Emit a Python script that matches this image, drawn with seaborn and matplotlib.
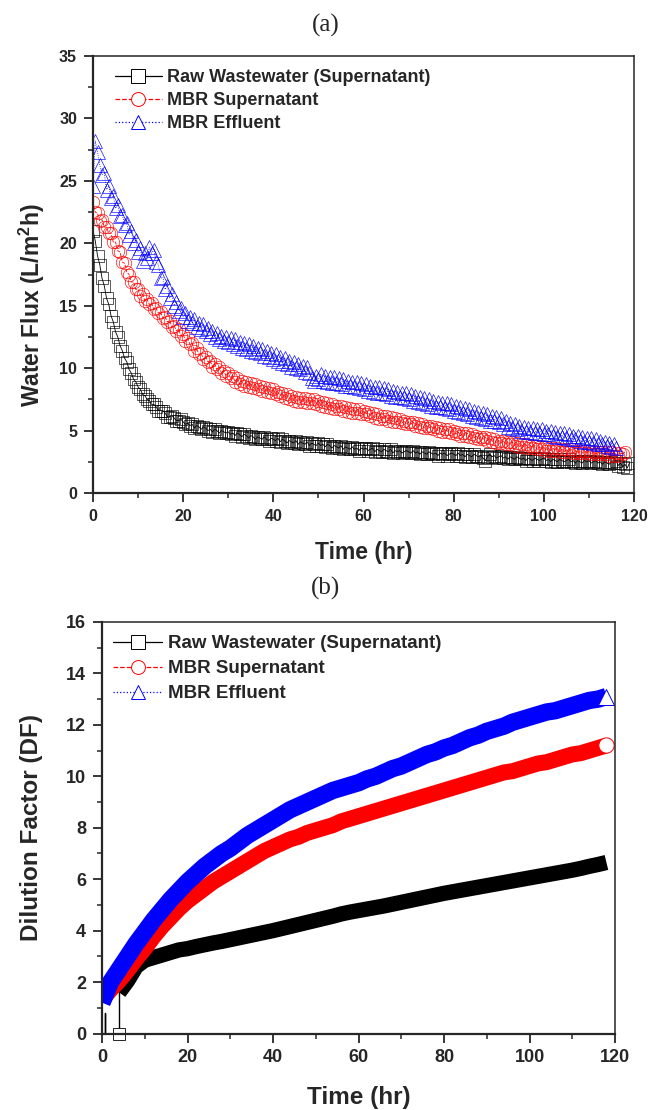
"""
Water flux / dilution factor curves, panels (a) and (b)
"""
import matplotlib
matplotlib.use('Agg')
import matplotlib.pyplot as plt
from matplotlib.lines import Line2D
from matplotlib.ticker import MultipleLocator
import seaborn as sns

# --- data (a): water flux, one reading every half hour ---
raw_flux = [21.0, 20.2, 19.0, 18.3, 17.2, 16.6, 15.6, 15.1, 14.2, 13.7,
            12.9, 12.5, 11.8, 11.4, 10.8, 10.5, 9.9, 9.6, 9.1, 8.9,
            8.5, 8.3, 7.9, 7.8, 7.5, 7.4, 7.1, 7.1, 6.9, 6.6,
            6.6, 6.6, 6.4, 6.1, 6.1, 6.2, 6.0, 5.8, 5.8, 5.9,
            5.7, 5.5, 5.6, 5.4, 5.5, 5.2, 5.4, 5.3, 5.1, 5.3,
            5.2, 5.0, 5.1, 4.9, 5.1, 5.0, 4.8, 5.0, 4.9, 4.8,
            4.9, 4.7, 4.8, 4.6, 4.8, 4.7, 4.5, 4.7, 4.6, 4.4,
            4.6, 4.5, 4.3, 4.5, 4.4, 4.3, 4.5, 4.3, 4.2, 4.4,
            4.3, 4.2, 4.4, 4.1, 4.3, 4.2, 4.0, 4.2, 4.1, 4.0,
            4.2, 3.9, 4.1, 4.0, 3.9, 4.1, 3.8, 4.0, 3.9, 3.8,
            4.0, 3.8, 3.9, 3.7, 3.9, 3.8, 3.6, 3.8, 3.7, 3.6,
            3.8, 3.5, 3.7, 3.6, 3.5, 3.7, 3.5, 3.6, 3.4, 3.6,
            3.5, 3.6, 3.4, 3.5, 3.6, 3.3, 3.5, 3.4, 3.3, 3.5,
            3.4, 3.3, 3.5, 3.2, 3.4, 3.3, 3.4, 3.2, 3.3, 3.4,
            3.3, 3.2, 3.4, 3.2, 3.3, 3.1, 3.3, 3.2, 3.1, 3.3,
            3.2, 3.1, 3.2, 3.0, 3.2, 3.1, 3.2, 3.0, 3.1, 3.2,
            3.1, 3.0, 3.2, 3.0, 3.1, 2.9, 3.1, 3.0, 2.9, 3.1,
            3.0, 2.9, 3.0, 2.8, 2.6, 2.9, 3.1, 2.9, 3.0, 2.8,
            2.9, 3.0, 2.8, 2.9, 2.7, 2.9, 2.8, 2.7, 2.9, 2.8,
            2.7, 2.8, 2.6, 2.8, 2.7, 2.6, 2.8, 2.7, 2.6, 2.7,
            2.8, 2.6, 2.7, 2.5, 2.7, 2.6, 2.5, 2.7, 2.6, 2.5,
            2.6, 2.7, 2.5, 2.6, 2.4, 2.6, 2.5, 2.4, 2.6, 2.5,
            2.6, 2.4, 2.5, 2.6, 2.4, 2.5, 2.3, 2.5, 2.4, 2.3,
            2.5, 2.4, 2.6, 2.2, 2.4, 2.1, 2.3, 2.0, 2.4]
mbr_sup_flux = [23.3, 22.5, 22.4, 21.8, 21.9, 21.3, 21.3, 20.8, 20.8, 20.1,
                20.1, 19.4, 19.3, 18.5, 18.4, 17.7, 17.5, 16.9, 16.9, 16.3,
                16.3, 15.8, 15.9, 15.4, 15.5, 15.1, 15.2, 14.7, 14.8, 14.4,
                14.5, 14.0, 14.1, 13.7, 13.8, 13.3, 13.4, 13.0, 13.1, 12.6,
                12.7, 12.2, 12.4, 11.9, 12.0, 11.4, 11.6, 11.1, 11.2, 10.7,
                10.9, 10.5, 10.6, 10.1, 10.3, 9.9, 10.1, 9.6, 9.8, 9.4,
                9.6, 9.2, 9.4, 8.9, 9.2, 8.7, 9.0, 8.6, 8.9, 8.5,
                8.8, 8.4, 8.7, 8.3, 8.6, 8.2, 8.5, 8.1, 8.4, 8.0,
                8.3, 7.9, 8.1, 7.8, 8.0, 7.6, 7.9, 7.5, 7.8, 7.4,
                7.7, 7.3, 7.6, 7.3, 7.6, 7.2, 7.5, 7.2, 7.5, 7.1,
                7.4, 7.0, 7.3, 6.9, 7.2, 6.8, 7.1, 6.7, 7.0, 6.7,
                7.0, 6.6, 6.9, 6.5, 6.8, 6.4, 6.7, 6.4, 6.7, 6.3,
                6.6, 6.3, 6.5, 6.2, 6.4, 6.0, 6.3, 5.9, 6.2, 5.9,
                6.2, 5.8, 6.1, 5.7, 6.0, 5.7, 5.9, 5.6, 5.8, 5.5,
                5.7, 5.5, 5.7, 5.4, 5.6, 5.3, 5.5, 5.2, 5.4, 5.2,
                5.4, 5.1, 5.3, 5.0, 5.2, 4.9, 5.1, 4.9, 5.1, 4.8,
                5.0, 4.7, 4.9, 4.6, 4.8, 4.6, 4.8, 4.5, 4.7, 4.4,
                4.6, 4.3, 4.5, 4.3, 4.5, 4.2, 4.4, 4.1, 4.3, 4.0,
                4.2, 4.0, 4.2, 3.9, 4.1, 3.9, 4.1, 3.8, 4.0, 3.7,
                3.9, 3.7, 3.9, 3.6, 3.8, 3.6, 3.8, 3.5, 3.7, 3.5,
                3.7, 3.4, 3.6, 3.4, 3.6, 3.4, 3.6, 3.3, 3.5, 3.3,
                3.5, 3.3, 3.5, 3.2, 3.4, 3.2, 3.4, 3.2, 3.4, 3.2,
                3.4, 3.1, 3.3, 3.1, 3.3, 3.1, 3.3, 3.1, 3.3, 3.0,
                3.3, 3.0, 3.2, 3.0, 3.2, 3.1, 3.3]
mbr_eff_flux = [24.6, 28.2, 27.3, 26.3, 25.5, 25.6, 24.3, 24.6, 23.6, 23.8,
                22.8, 23.1, 22.2, 22.3, 21.5, 21.6, 20.7, 21.0, 20.0, 20.3,
                19.3, 19.6, 18.6, 19.2, 18.8, 19.7, 19.2, 19.5, 18.5, 18.3,
                17.2, 17.3, 16.3, 16.6, 15.6, 15.9, 15.0, 15.3, 14.6, 14.8,
                14.1, 14.4, 13.8, 14.1, 13.6, 13.9, 13.3, 13.6, 13.1, 13.5,
                13.0, 13.2, 12.7, 13.0, 12.5, 12.8, 12.3, 12.6, 12.2, 12.5,
                12.1, 12.4, 11.9, 12.3, 11.8, 12.1, 11.6, 12.0, 11.5, 11.9,
                11.4, 11.8, 11.3, 11.6, 11.2, 11.5, 11.0, 11.4, 10.9, 11.2,
                10.7, 11.1, 10.6, 10.9, 10.4, 10.8, 10.3, 10.6, 10.1, 10.5,
                10.0, 10.3, 9.9, 10.2, 9.7, 10.1, 9.6, 9.2, 9.0, 9.4,
                9.1, 9.5, 9.0, 9.4, 8.9, 9.3, 8.8, 9.3, 8.8, 9.2,
                8.7, 9.1, 8.6, 9.0, 8.6, 8.9, 8.5, 8.9, 8.4, 8.8,
                8.3, 8.7, 8.2, 8.6, 8.1, 8.5, 8.0, 8.5, 8.0, 8.4,
                7.9, 8.3, 7.8, 8.2, 7.7, 8.1, 7.7, 8.0, 7.6, 8.0,
                7.5, 7.9, 7.4, 7.8, 7.3, 7.7, 7.2, 7.6, 7.1, 7.5,
                7.0, 7.4, 6.9, 7.3, 6.9, 7.2, 6.8, 7.2, 6.7, 7.1,
                6.6, 7.0, 6.5, 6.9, 6.4, 6.8, 6.3, 6.7, 6.2, 6.6,
                6.1, 6.5, 6.0, 6.4, 5.9, 6.3, 5.8, 6.2, 5.8, 6.1,
                5.7, 6.0, 5.5, 5.8, 5.3, 5.6, 5.2, 5.5, 5.1, 5.4,
                5.0, 5.3, 4.9, 5.2, 4.9, 5.2, 4.8, 5.1, 4.8, 5.1,
                4.7, 5.0, 4.7, 5.0, 4.6, 4.9, 4.5, 4.8, 4.5, 4.8,
                4.4, 4.7, 4.3, 4.6, 4.3, 4.6, 4.2, 4.5, 4.1, 4.4,
                4.1, 4.4, 4.0, 4.3, 3.9, 4.2, 3.9, 4.1, 3.8, 4.0,
                3.7, 3.9, 3.6]
raw_time = [i * 0.5 for i in range(len(raw_flux))]
mbr_sup_time = [i * 0.5 for i in range(len(mbr_sup_flux))]
mbr_eff_time = [i * 0.5 for i in range(len(mbr_eff_flux))]

# --- data (b): dilution factor, every 2 hours ---
df_time = list(range(0, 120, 2))
raw_df_time = list(range(4, 120, 2))
raw_df_early_time = [0.0, 0.6, 0.6, 0.6, 3.9, 3.9]
raw_df_early = [0.0, 0.0, 0.8, 0.0, 0.0, 1.6]
raw_df = [1.6, 2.05, 2.6, 2.85, 2.95, 3.05, 3.15, 3.25,
          3.3, 3.38, 3.45, 3.52, 3.58, 3.65, 3.72, 3.79, 3.86, 3.93,
          4.0, 4.08, 4.16, 4.24, 4.32, 4.4, 4.48, 4.56, 4.65, 4.72,
          4.78, 4.84, 4.9, 4.96, 5.03, 5.1, 5.17, 5.24, 5.31, 5.38,
          5.45, 5.51, 5.57, 5.63, 5.69, 5.75, 5.81, 5.87, 5.93, 5.99,
          6.05, 6.11, 6.17, 6.23, 6.29, 6.35, 6.42, 6.5, 6.57, 6.65]
mbr_sup_df = [1.3, 1.7, 2.05, 2.45, 2.9, 3.3, 3.75, 4.15, 4.5, 4.85,
              5.15, 5.4, 5.65, 5.9, 6.1, 6.3, 6.5, 6.7, 6.9, 7.1,
              7.25, 7.4, 7.55, 7.65, 7.8, 7.9, 8.0, 8.1, 8.25, 8.35,
              8.45, 8.55, 8.65, 8.75, 8.85, 8.95, 9.05, 9.15, 9.25, 9.35,
              9.45, 9.55, 9.65, 9.75, 9.85, 9.95, 10.05, 10.15, 10.2, 10.3,
              10.4, 10.5, 10.55, 10.65, 10.75, 10.85, 10.9, 11.0, 11.1, 11.2]
mbr_eff_df = [1.2, 2.0, 2.5, 3.0, 3.5, 3.95, 4.4, 4.8, 5.2, 5.55,
              5.9, 6.2, 6.5, 6.75, 7.0, 7.2, 7.45, 7.7, 7.9, 8.1,
              8.3, 8.5, 8.7, 8.85, 9.0, 9.15, 9.3, 9.45, 9.55, 9.65,
              9.75, 9.9, 10.0, 10.15, 10.3, 10.4, 10.55, 10.7, 10.85, 10.95,
              11.1, 11.2, 11.35, 11.5, 11.6, 11.75, 11.85, 11.95, 12.1, 12.2,
              12.3, 12.4, 12.5, 12.55, 12.65, 12.75, 12.85, 12.95, 13.0, 13.1]

labels = ['Raw Wastewater (Supernatant)', 'MBR Supernatant', 'MBR Effluent']
colors = ['black', '#ff0000', '#0000ff']
markers = ['s', 'o', '^']
styles = ['-', '--', ':']

# --- style ---
sns.set_style('ticks')
plt.rcParams['font.family'] = ['Liberation Sans', 'DejaVu Sans']
plt.rcParams['font.weight'] = 'bold'
plt.rcParams['mathtext.default'] = 'regular'


def style_axes(ax, ymax, ymajor, tick_fs, label_fs, ylabel):
    ax.set_xlim(0, 120)
    ax.set_ylim(0, ymax)
    ax.xaxis.set_major_locator(MultipleLocator(20))
    ax.xaxis.set_minor_locator(MultipleLocator(10))
    ax.yaxis.set_major_locator(MultipleLocator(ymajor))
    ax.yaxis.set_minor_locator(MultipleLocator(ymajor / 2))
    ax.tick_params(which='major', direction='out', length=6.5, width=1.3,
                   labelsize=tick_fs, pad=5, top=False, right=False)
    ax.tick_params(which='minor', direction='out', length=3.5, width=1.1,
                   top=False, right=False)
    for lab in ax.get_xticklabels() + ax.get_yticklabels():
        lab.set_fontweight('bold')
    for side in ['left', 'bottom']:
        ax.spines[side].set_linewidth(1.6)
    for side in ['top', 'right']:
        ax.spines[side].set_linewidth(1.1)
        ax.spines[side].set_visible(True)
    ax.set_xlabel('Time (hr)', fontsize=label_fs, fontweight='bold')
    ax.set_ylabel(ylabel, fontsize=label_fs, fontweight='bold')


def legend_handles(ms):
    return [Line2D([], [], color=c, ls=s, lw=0.9, marker=m, markersize=ms,
                   markerfacecolor='white', markeredgecolor=c, markeredgewidth=0.7)
            for c, m, s in zip(colors, markers, styles)]


fig = plt.figure(figsize=(6.52, 11.10), dpi=100)

# ---------------- (a) ----------------
ax1 = fig.add_axes([93 / 652, 1 - 493 / 1110, 541 / 652, 437 / 1110])
series_a = [(raw_time, raw_flux), (mbr_sup_time, mbr_sup_flux), (mbr_eff_time, mbr_eff_flux)]
msize_a = [8, 9, 10]
for (t, v), c, m, s, ms in zip(series_a, colors, markers, styles, msize_a):
    sns.lineplot(x=t, y=v, ax=ax1, color=c, linestyle=s, linewidth=0.6,
                 marker=m, markersize=ms, markerfacecolor='none',
                 markeredgecolor=c, markeredgewidth=0.45,
                 estimator=None, sort=False, legend=False)
style_axes(ax1, 35, 5, 11.5, 16.5, 'Water Flux (L/m$^{2}$h)')
ax1.yaxis.set_label_coords(-0.085, 0.43)
ax1.xaxis.labelpad = 12
ax1.legend(legend_handles(10), labels, loc='upper left', bbox_to_anchor=(0.02, 0.995),
           frameon=False, handlelength=2.6, handletextpad=0.3,
           labelspacing=0.33, borderaxespad=0.2, prop={'weight': 'bold', 'size': 13})
fig.text(0.5, 1 - 25 / 1110, '(a)', ha='center', va='center', fontsize=18,
         family=['Liberation Serif', 'DejaVu Serif'], fontweight='normal')

# ---------------- (b) ----------------
ax2 = fig.add_axes([102 / 652, 1 - 1033.5 / 1110, 513 / 652, 411.5 / 1110])
sns.lineplot(x=raw_df_early_time, y=raw_df_early, ax=ax2, color='black', linewidth=1.0,
             estimator=None, sort=False, legend=False)
band_lw = [11, 11.5, 12.5]
series_b = [(raw_df_time, raw_df), (df_time, mbr_sup_df), (df_time, mbr_eff_df)]
for (t, v), c, lw in zip(series_b, colors, band_lw):
    sns.lineplot(x=t, y=v, ax=ax2, color=c, linewidth=lw, solid_capstyle='butt',
                 estimator=None, sort=False, legend=False)
# final open markers at the end of the MBR curves
for (t, v), c, m in zip(series_b[1:], colors[1:], markers[1:]):
    ax2.plot(t[-1:], v[-1:], ls='none', marker=m, markersize=11,
             markerfacecolor='white', markeredgecolor=c, markeredgewidth=0.7)
ax2.plot(raw_df_early_time[4:5], raw_df_early[4:5], ls='none', marker='s', markersize=8,
         markerfacecolor='white', markeredgecolor='black', markeredgewidth=0.6, clip_on=False)
style_axes(ax2, 16, 2, 13, 17.5, 'Dilution Factor (DF)')
ax2.yaxis.set_label_coords(-0.115, 0.5)
ax2.xaxis.labelpad = 14
ax2.legend(legend_handles(10), labels, loc='upper left', bbox_to_anchor=(0.0, 0.995),
           frameon=False, handlelength=2.6, handletextpad=0.3,
           labelspacing=0.42, borderaxespad=0.2, prop={'weight': 'bold', 'size': 13.5})
fig.text(0.5, 1 - 588 / 1110, '(b)', ha='center', va='center', fontsize=18,
         family=['Liberation Serif', 'DejaVu Serif'], fontweight='normal')

fig.savefig('out.png', dpi=100, facecolor='white')
